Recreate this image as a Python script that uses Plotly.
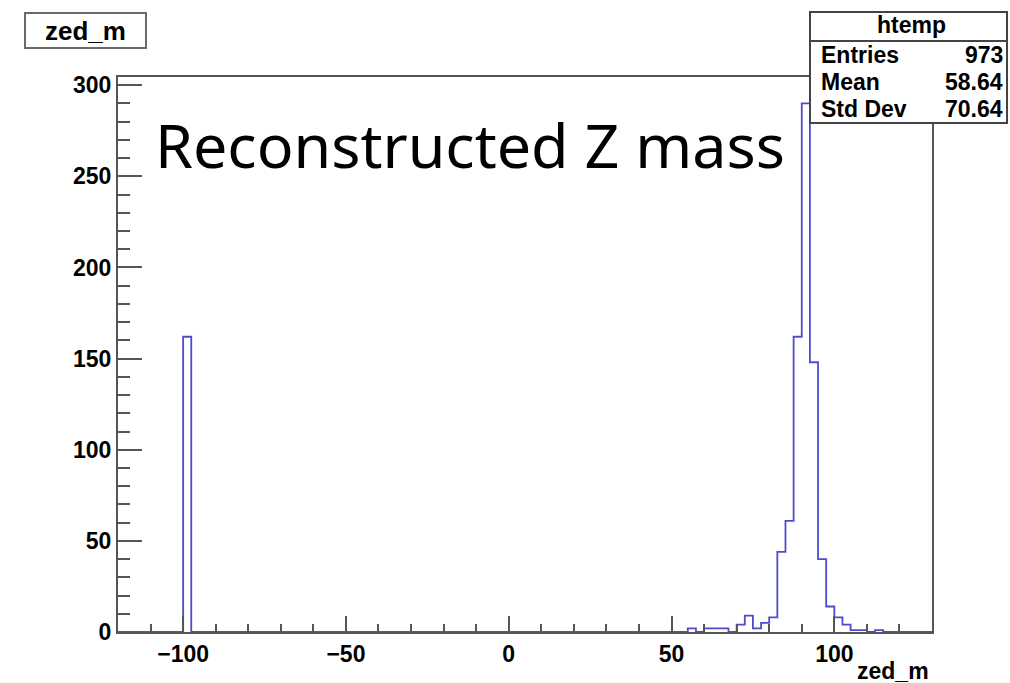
import numpy as np
import plotly.graph_objects as go

# ---------------- data ----------------
bin_low_edge = -120.0
bin_width = 2.5
n_bins = 100
filled_bin_lows = [-100, 55, 60, 62.5, 65, 70, 72.5, 75, 77.5, 80, 82.5, 85, 87.5,
                   90, 92.5, 95, 97.5, 100, 102.5, 105, 107.5, 112.5]
filled_counts = [162, 2, 2, 2, 2, 4, 9, 2, 5, 8, 44, 61, 162,
                 290, 148, 40, 14, 8, 4, 1, 1, 1]
x_ticks = [-100, -50, 0, 50, 100]
y_ticks = [0, 50, 100, 150, 200, 250, 300]
stat_labels = ["Entries", "Mean", "Std Dev"]
stat_values = ["973", "58.64", "70.64"]
hist_name = "htemp"
var_name = "zed_m"
big_label = "Reconstructed Z mass"

# ------------- build histogram -------------
edges = bin_low_edge + bin_width * np.arange(n_bins + 1)
counts = np.zeros(n_bins)
for lo, c in zip(filled_bin_lows, filled_counts):
    counts[int(round((lo - bin_low_edge) / bin_width))] = c
step_x = edges
step_y = np.append(counts, counts[-1])

# ------------- layout geometry -------------
W, H = 1010, 683
L, R, T, B = 118, 932, 77, 632


def px(x):
    return (x - L) / (R - L)


def py(y):
    return (B - y) / (B - T)


ROOT_FONT = "Liberation Sans, Arial, Helvetica, sans-serif"
axis_col = "#555555"

fig = go.Figure()
fig.add_trace(go.Scatter(x=step_x, y=step_y, mode="lines",
                         line=dict(shape="hv", color="#4d4dcc", width=1.8),
                         hoverinfo="skip", showlegend=False))

fig.update_layout(
    width=W, height=H,
    margin=dict(l=L, r=W - R, t=T, b=H - B),
    paper_bgcolor="white", plot_bgcolor="white",
    showlegend=False,
)
fig.update_xaxes(
    range=[bin_low_edge, bin_low_edge + n_bins * bin_width],
    tickvals=x_ticks, ticks="inside", ticklen=16, tickwidth=2, tickcolor=axis_col,
    minor=dict(dtick=10, tick0=0, ticks="inside", ticklen=8, tickwidth=2, tickcolor=axis_col),
    showline=True, linecolor=axis_col, linewidth=2, mirror=True,
    showgrid=False, zeroline=False,
    tickfont=dict(family=ROOT_FONT, size=23, color="black", weight="bold"),
)
fig.update_yaxes(
    range=[0, 1.05 * max(filled_counts)],
    tickvals=y_ticks, ticks="inside", ticklen=24, tickwidth=2, tickcolor=axis_col,
    minor=dict(dtick=10, tick0=0, ticks="inside", ticklen=12, tickwidth=2, tickcolor=axis_col),
    showline=True, linecolor=axis_col, linewidth=2, mirror=True,
    showgrid=False, zeroline=False,
    tickfont=dict(family=ROOT_FONT, size=23, color="black", weight="bold"),
)

shapes = []
annotations = []

# title box (top-left)
shapes.append(dict(type="rect", xref="paper", yref="paper",
                   x0=px(25), x1=px(146), y0=py(48), y1=py(13),
                   line=dict(color="#6a6a6a", width=2), fillcolor="white", layer="above"))
annotations.append(dict(xref="paper", yref="paper", x=px(85.5), y=py(31),
                        text=var_name, showarrow=False, xanchor="center", yanchor="middle",
                        font=dict(family=ROOT_FONT, size=26, color="black", weight="bold")))

# stats box (top-right)
shapes.append(dict(type="rect", xref="paper", yref="paper",
                   x0=px(810), x1=px(1007), y0=py(123), y1=py(12),
                   line=dict(color="#444444", width=2), fillcolor="white", layer="above"))
shapes.append(dict(type="line", xref="paper", yref="paper",
                   x0=px(810), x1=px(1007), y0=py(41), y1=py(41),
                   line=dict(color="#444444", width=2), layer="above"))
annotations.append(dict(xref="paper", yref="paper", x=px(911), y=py(25),
                        text=hist_name, showarrow=False, xanchor="center", yanchor="middle",
                        font=dict(family=ROOT_FONT, size=23, color="black", weight="bold")))
row_y = [55, 82, 109]
for lab, val, yy in zip(stat_labels, stat_values, row_y):
    annotations.append(dict(xref="paper", yref="paper", x=px(819), y=py(yy),
                            text=lab, showarrow=False, xanchor="left", yanchor="middle",
                            font=dict(family=ROOT_FONT, size=23, color="black", weight="bold")))
    annotations.append(dict(xref="paper", yref="paper", x=px(1005), y=py(yy),
                            text=val, showarrow=False, xanchor="right", yanchor="middle",
                            font=dict(family=ROOT_FONT, size=23, color="black", weight="bold")))

# big label
annotations.append(dict(xref="paper", yref="paper", x=px(153), y=py(144),
                        text=big_label, showarrow=False, xanchor="left", yanchor="middle",
                        font=dict(family="Noto Sans", size=61, color="black")))

# x-axis title (bottom right)
annotations.append(dict(xref="paper", yref="paper", x=px(931), y=py(671),
                        text=var_name, showarrow=False, xanchor="right", yanchor="middle",
                        font=dict(family=ROOT_FONT, size=23, color="black", weight="bold")))

fig.update_layout(shapes=shapes, annotations=annotations)
fig.write_html("out.html")
